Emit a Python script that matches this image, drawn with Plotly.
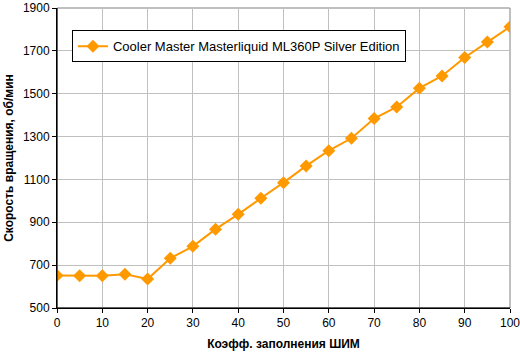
import plotly.graph_objects as go

pwm = [0, 5, 10, 15, 20, 25, 30, 35, 40, 45, 50, 55, 60, 65, 70, 75, 80, 85, 90, 95, 100]
rpm = [652, 650, 650, 658, 635, 732, 788, 868, 937, 1012, 1085, 1163, 1234, 1292, 1384, 1438, 1526, 1583, 1669, 1741, 1812]
series_name = "Cooler Master Masterliquid ML360P Silver Edition"
x_ticks = list(range(0, 101, 10))
y_ticks = list(range(500, 1901, 200))

fig = go.Figure()
fig.add_trace(go.Scatter(
    x=pwm, y=rpm, mode="lines+markers", name=series_name,
    line=dict(color="#FF9900", width=2),
    marker=dict(symbol="diamond", size=10, color="#FF9900"),
    showlegend=True,
))

font = "Arial, 'Liberation Sans', sans-serif"
fig.update_layout(
    width=520, height=355,
    margin=dict(l=57, r=10, t=8, b=47),
    paper_bgcolor="white", plot_bgcolor="white",
    font=dict(family=font, size=12, color="black"),
    showlegend=True,
    legend=dict(
        x=0.033, y=0.926, xanchor="left", yanchor="top",
        bgcolor="white", bordercolor="black", borderwidth=1,
        font=dict(size=13, family=font), itemwidth=30,
    ),
    xaxis=dict(
        range=[0, 100], tickvals=x_ticks, ticks="outside", ticklen=4,
        tickcolor="black", showline=True, linecolor="black", linewidth=1,
        mirror=False, showgrid=True, gridcolor="#C0C0C0", gridwidth=1,
        zeroline=False, ticklabeloverflow="allow", automargin=False,
        title=dict(text="<b>Коэфф. заполнения ШИМ</b>", font=dict(size=12), standoff=10),
    ),
    yaxis=dict(
        range=[500, 1900], tickvals=y_ticks, ticks="outside", ticklen=4,
        tickcolor="black", showline=True, linecolor="black", linewidth=1,
        showgrid=True, gridcolor="#C0C0C0", gridwidth=1, zeroline=False,
        ticklabeloverflow="allow", automargin=False,
        title=dict(text="<b>Скорость вращения, об/мин</b>", font=dict(size=12), standoff=6),
    ),
)
# gray top/right border of plot area
fig.add_shape(type="rect", xref="paper", yref="paper", x0=0, y0=0, x1=1, y1=1,
              line=dict(color="#808080", width=1), layer="below")
fig.add_shape(type="line", xref="paper", yref="paper", x0=0, y0=0, x1=0, y1=1,
              line=dict(color="black", width=1))
fig.add_shape(type="line", xref="paper", yref="paper", x0=0, y0=0, x1=1, y1=0,
              line=dict(color="black", width=1))

fig.write_html("out.html")
